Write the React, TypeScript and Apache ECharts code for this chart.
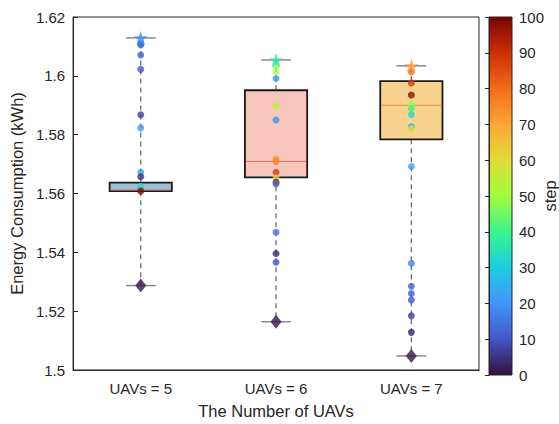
import React, { useEffect, useRef } from "react";
import * as echarts from "echarts";

const categories = ["UAVs = 5", "UAVs = 6", "UAVs = 7"];
const boxMin = [1.5287, 1.5164, 1.5048];
const boxQ1 = [1.5608, 1.5655, 1.5784];
const boxMedian = [1.5612, 1.5709, 1.59];
const boxQ3 = [1.5637, 1.5951, 1.5982];
const boxMax = [1.6129, 1.6054, 1.6034];
const maxStep = [19, 36, 72];
const minStep = [1, 1, 1];

const uav5Values = [1.611, 1.6105, 1.6071, 1.6022, 1.5868, 1.5823, 1.5672, 1.5657, 1.5624, 1.5608];
const uav5Steps = [14, 13, 12, 11, 7, 21, 24, 5, 33, 98];
const uav6Values = [1.6035, 1.6015, 1.5991, 1.5898, 1.585, 1.5717, 1.5709, 1.5672, 1.5653, 1.5638, 1.5632, 1.5468, 1.5396, 1.5366];
const uav6Steps = [46, 50, 22, 52, 19, 72, 76, 88, 61, 97, 13, 15, 4, 11];
const uav7Values = [1.6013, 1.5976, 1.5935, 1.5904, 1.5889, 1.5868, 1.5828, 1.582, 1.5692, 1.5363, 1.5285, 1.526, 1.5238, 1.5184, 1.5128];
const uav7Steps = [80, 88, 97, 49, 40, 33, 26, 60, 21, 17, 13, 12, 11, 7, 4];

const yTicks = { min: 1.5, max: 1.62, interval: 0.02 };
const stepTicks = { min: 0, max: 100, interval: 10 };

const boxFill = ["#9dbdd8", "#f7c7bc", "#f8d38f"];
const medianColor = ["#e8705c", "#ec6f5e", "#f28a3c"];
const turbo = ["#30123b", "#4456c7", "#4295fd", "#1ccde0", "#38f58d", "#a4fc3b", "#e1dd37", "#fea636", "#f56b18", "#ce2e05", "#7a0403"];

const FONT = "'Liberation Sans', Arial, Helvetica, sans-serif";
const AX = "#262626";
const STAR = "path://M50,0 L61.8,35.1 L97.6,34.5 L69,56.9 L79.4,90.5 L50,70 L20.6,90.5 L31,56.9 L2.4,34.5 L38.2,35.1 Z";

export default function App() {
  const ref = useRef<HTMLDivElement>(null);
  useEffect(() => {
    if (!ref.current) return;
    const chart = echarts.init(ref.current, null, { renderer: "svg" });

    const boxData = categories.map((_, i) => [i, boxMin[i], boxQ1[i], boxMedian[i], boxQ3[i], boxMax[i]]);
    const groups = [
      [uav5Values, uav5Steps],
      [uav6Values, uav6Steps],
      [uav7Values, uav7Steps],
    ];
    const dots: number[][] = [];
    groups.forEach(([vals, steps], i) => {
      vals.forEach((v, j) => dots.push([i, v, steps[j]]));
    });
    const stars = categories.map((_, i) => [i, boxMax[i], maxStep[i]]);
    const diamonds = categories.map((_, i) => [i, boxMin[i], minStep[i]]);

    const gradient = new echarts.graphic.LinearGradient(
      0, 1, 0, 0,
      turbo.map((c, i) => ({ offset: i / (turbo.length - 1), color: c }))
    );

    const option: any = {
      animation: false,
      textStyle: { fontFamily: FONT },
      grid: [
        { left: 73, right: 80, top: 17, bottom: 49, show: true, borderColor: AX, borderWidth: 1, backgroundColor: "transparent" },
        { left: 489, width: 23, top: 17, bottom: 49, show: true, borderColor: AX, borderWidth: 1, backgroundColor: gradient },
      ],
      xAxis: [
        {
          type: "category",
          data: categories,
          gridIndex: 0,
          boundaryGap: true,
          axisLine: { lineStyle: { color: AX, width: 1 } },
          axisTick: { inside: true, alignWithLabel: true, length: 5, lineStyle: { color: AX } },
          axisLabel: { color: AX, fontSize: 15, margin: 11, fontFamily: FONT },
          name: "The Number of UAVs",
          nameLocation: "middle",
          nameGap: 32,
          nameTextStyle: { color: AX, fontSize: 16.5, fontFamily: FONT },
        },
        { type: "value", gridIndex: 1, show: false, min: 0, max: 1 },
      ],
      yAxis: [
        {
          type: "value",
          gridIndex: 0,
          min: yTicks.min,
          max: yTicks.max,
          interval: yTicks.interval,
          axisLine: { show: true, lineStyle: { color: AX, width: 1 } },
          axisTick: { show: true, inside: true, length: 5, lineStyle: { color: AX } },
          axisLabel: { color: AX, fontSize: 15, margin: 8, fontFamily: FONT, formatter: (v: number) => String(parseFloat(v.toFixed(3))) },
          splitLine: { show: false },
          name: "Energy Consumption (kWh)",
          nameLocation: "middle",
          nameGap: 46,
          nameTextStyle: { color: AX, fontSize: 16.5, fontFamily: FONT },
        },
        {
          type: "value",
          gridIndex: 1,
          position: "right",
          min: stepTicks.min,
          max: stepTicks.max,
          interval: stepTicks.interval,
          axisLine: { show: true, lineStyle: { color: AX, width: 1 } },
          axisTick: { show: true, inside: true, length: 4, lineStyle: { color: AX } },
          axisLabel: { color: AX, fontSize: 15, margin: 7, fontFamily: FONT },
          splitLine: { show: false },
        },
      ],
      visualMap: {
        type: "continuous",
        show: false,
        min: stepTicks.min,
        max: stepTicks.max,
        dimension: 2,
        seriesIndex: [1, 2, 3],
        inRange: { color: turbo },
      },
      graphic: [
        {
          type: "text",
          x: 550,
          y: 196,
          rotation: Math.PI / 2,
          style: { text: "step", fill: AX, fontSize: 16.5, fontFamily: FONT, align: "center", verticalAlign: "middle" },
        },
      ],
      series: [
        {
          type: "custom",
          xAxisIndex: 0,
          yAxisIndex: 0,
          data: boxData,
          encode: { x: 0, y: [1, 2, 3, 4, 5] },
          z: 1,
          renderItem: (params: any, api: any) => {
            const idx = params.dataIndex;
            const x = api.value(0);
            const pMin = api.coord([x, api.value(1)]);
            const pQ1 = api.coord([x, api.value(2)]);
            const pMed = api.coord([x, api.value(3)]);
            const pQ3 = api.coord([x, api.value(4)]);
            const pMax = api.coord([x, api.value(5)]);
            const band = api.size([1, 0])[0];
            const bw = band * 0.46;
            const cw = band * 0.22;
            const cx = pMed[0];
            const dashStyle = { stroke: "#6e6e6e", lineWidth: 1.3, lineDash: [5, 4] };
            const capStyle = { stroke: "#8a8a8a", lineWidth: 1.5 };
            return {
              type: "group",
              children: [
                { type: "line", shape: { x1: cx, y1: pQ3[1], x2: cx, y2: pMax[1] }, style: dashStyle },
                { type: "line", shape: { x1: cx, y1: pQ1[1], x2: cx, y2: pMin[1] }, style: dashStyle },
                { type: "line", shape: { x1: cx - cw / 2, y1: pMax[1], x2: cx + cw / 2, y2: pMax[1] }, style: capStyle },
                { type: "line", shape: { x1: cx - cw / 2, y1: pMin[1], x2: cx + cw / 2, y2: pMin[1] }, style: capStyle },
                {
                  type: "rect",
                  shape: { x: cx - bw / 2, y: pQ3[1], width: bw, height: pQ1[1] - pQ3[1] },
                  style: { fill: boxFill[idx], stroke: "#1a1a1a", lineWidth: 1.8 },
                },
                {
                  type: "line",
                  shape: { x1: cx - bw / 2 + 1, y1: pMed[1], x2: cx + bw / 2 - 1, y2: pMed[1] },
                  style: { stroke: medianColor[idx], lineWidth: 1 },
                },
              ],
            };
          },
        },
        {
          type: "scatter",
          xAxisIndex: 0,
          yAxisIndex: 0,
          data: dots,
          symbol: "circle",
          symbolSize: 7,
          z: 3,
        },
        {
          type: "scatter",
          xAxisIndex: 0,
          yAxisIndex: 0,
          data: stars,
          symbol: STAR,
          symbolSize: 14,
          z: 4,
        },
        {
          type: "scatter",
          xAxisIndex: 0,
          yAxisIndex: 0,
          data: diamonds,
          symbol: "diamond",
          symbolSize: [11, 14],
          z: 4,
        },
      ],
    };
    chart.setOption(option);
    return () => chart.dispose();
  }, []);
  return <div ref={ref} style={{ width: 559, height: 424, position: "absolute", left: 0, top: 0 }} />;
}
